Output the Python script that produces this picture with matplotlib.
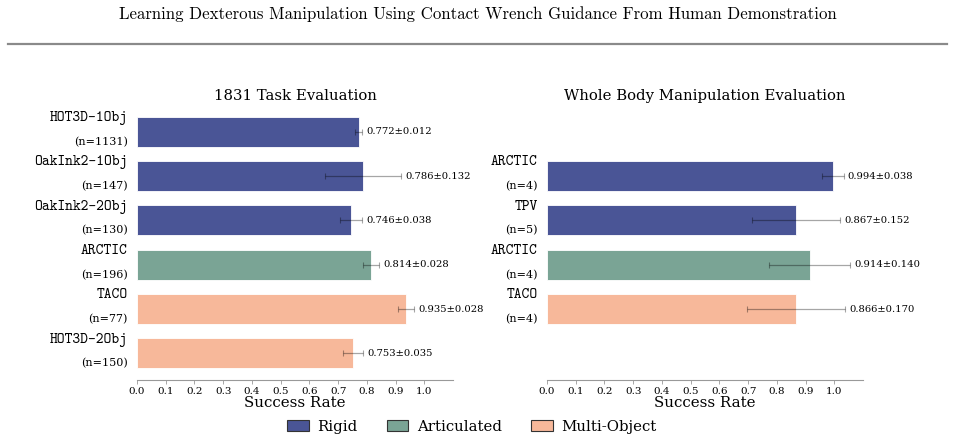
import numpy as np
import matplotlib.pyplot as plt
from matplotlib.patches import Patch

plt.rcParams['font.family'] = 'DejaVu Serif'
plt.rcParams['axes.unicode_minus'] = False

# left panel data
names_l = ['HOT3D-1Obj', 'OakInk2-1Obj', 'OakInk2-2Obj', 'ARCTIC', 'TACO', 'HOT3D-2Obj']
counts_l = [1131, 147, 130, 196, 77, 150]
means_l = [0.772, 0.786, 0.746, 0.814, 0.935, 0.753]
stds_l = [0.012, 0.132, 0.038, 0.028, 0.028, 0.035]
cats_l = ['Rigid', 'Rigid', 'Rigid', 'Articulated', 'Multi-Object', 'Multi-Object']

# right panel data
names_r = ['ARCTIC', 'TPV', 'ARCTIC', 'TACO']
counts_r = [4, 5, 4, 4]
means_r = [0.994, 0.867, 0.914, 0.866]
stds_r = [0.038, 0.152, 0.140, 0.170]
cats_r = ['Rigid', 'Rigid', 'Articulated', 'Multi-Object']

colors = {'Rigid': '#4a5596', 'Articulated': '#7aa495', 'Multi-Object': '#f7b89a'}
xticks = np.round(np.arange(0, 1.01, 0.1), 1)

fig = plt.figure(figsize=(9.55, 4.42), dpi=100)
fig.text(0.5, 0.968, 'Learning Dexterous Manipulation Using Contact Wrench Guidance From Human Demonstration',
         ha='center', va='center', fontsize=12.1, family='cmr10')
fig.add_artist(plt.Line2D([8/955, 947/955], [1-44/442, 1-44/442], color='#8a8a8a', lw=1.6,
                          transform=fig.transFigure))


def panel(ax, ypos, names, counts, means, stds, cats, title):
    for y, n, c, m, s, k in zip(ypos, names, counts, means, stds, cats):
        ax.barh(y, m, height=0.68, color=colors[k], edgecolor='white', linewidth=0.6)
        ax.errorbar(m, y, xerr=s, fmt='none', ecolor='black', alpha=0.35, elinewidth=0.9,
                    capsize=2, capthick=0.8)
        ax.text(m + s + 0.015, y, '%.3f±%.3f' % (m, s), va='center', ha='left', fontsize=7.2)
        ax.text(-0.03, y - 0.31, n, ha='right', va='center', fontsize=10.7, family='cmtt10',
                transform=ax.get_yaxis_transform())
        ax.text(-0.03, y + 0.23, '(n=%d)' % c, ha='right', va='center', fontsize=8,
                transform=ax.get_yaxis_transform())
    ax.set_xlim(0, 1.1)
    ax.set_ylim(5.6, -0.6)
    ax.set_yticks([])
    ax.set_xticks(xticks)
    ax.set_xticklabels(['%.1f' % t for t in xticks], fontsize=7.5)
    ax.tick_params(axis='x', length=3, width=0.6, color='#999999', pad=2)
    for sp in ['top', 'right', 'left']:
        ax.spines[sp].set_visible(False)
    ax.spines['bottom'].set_color('#999999')
    ax.spines['bottom'].set_linewidth(0.8)
    ax.set_xlabel('Success Rate', fontsize=10.8, labelpad=0)
    ax.set_title(title, fontsize=10.7, pad=3.5)


ax1 = fig.add_axes([137/955, 0.1403, 0.331, 0.622])
panel(ax1, np.arange(6), names_l, counts_l, means_l, stds_l, cats_l, '1831 Task Evaluation')

ax2 = fig.add_axes([547/955, 0.1403, 0.331, 0.622])
panel(ax2, np.arange(1, 5), names_r, counts_r, means_r, stds_r, cats_r, 'Whole Body Manipulation Evaluation')

handles = [Patch(facecolor=colors[k], edgecolor='#333333', linewidth=0.8, label=k)
           for k in ['Rigid', 'Articulated', 'Multi-Object']]
fig.legend(handles=handles, loc='center', bbox_to_anchor=(0.494, 1-427/442), ncol=3, frameon=False,
           fontsize=10.7, handlelength=1.45, handleheight=0.75, columnspacing=2.0, handletextpad=0.55)

fig.savefig('out.png', dpi=100)
